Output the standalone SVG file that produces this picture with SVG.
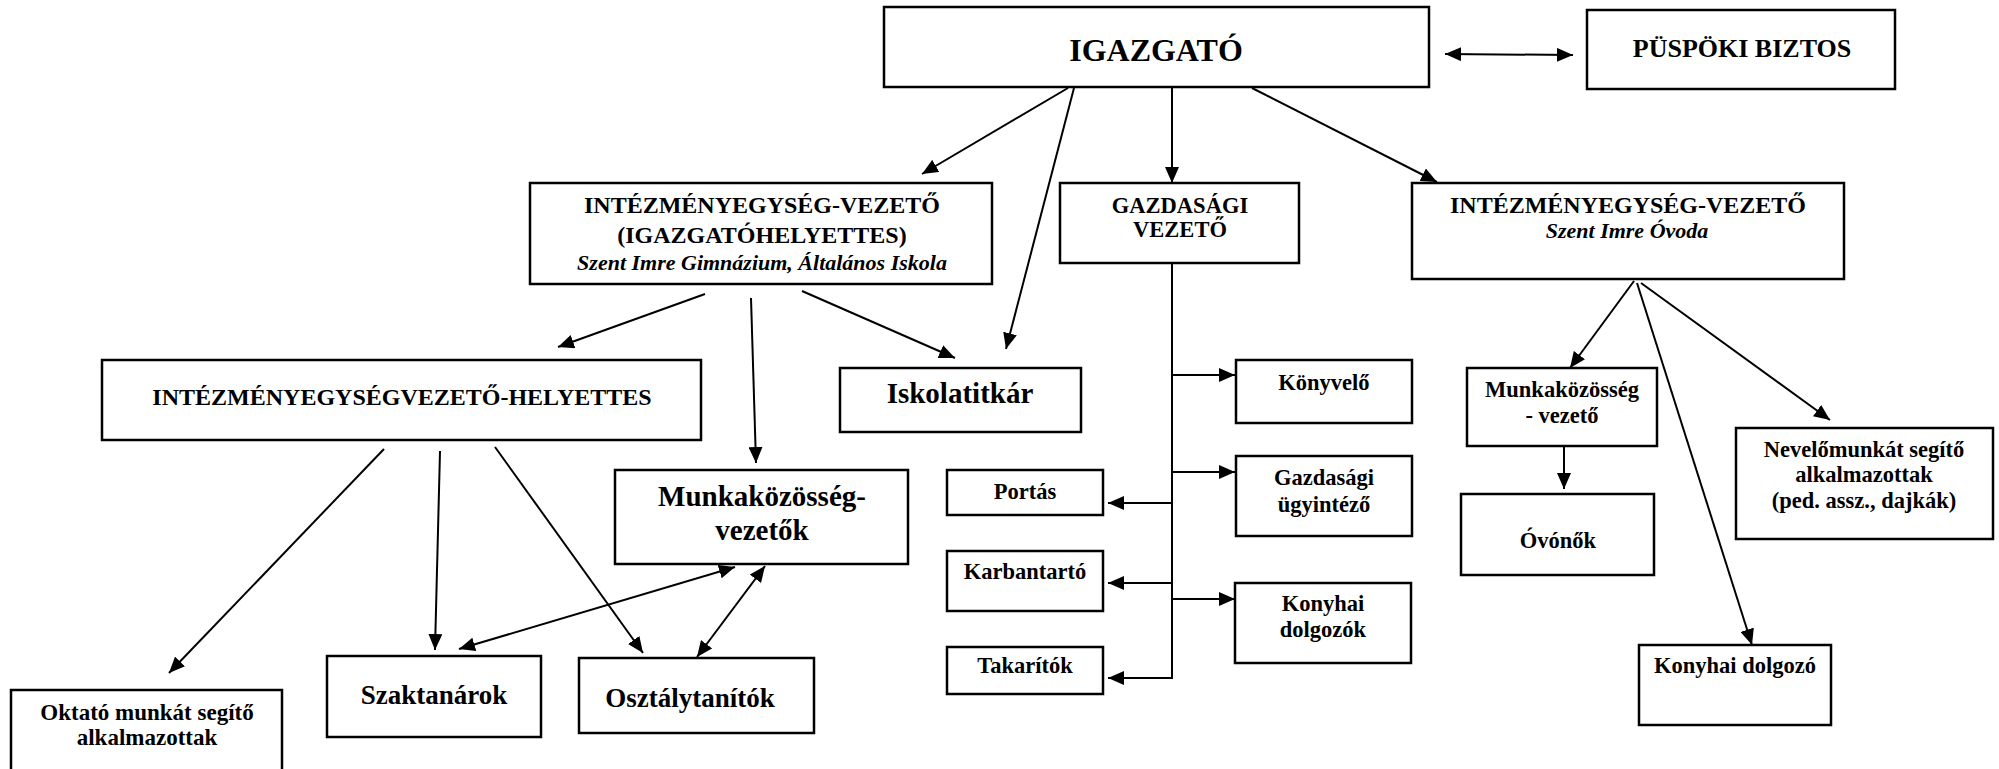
<svg xmlns="http://www.w3.org/2000/svg" width="1999" height="769" viewBox="0 0 1999 769">
<style>
.box{fill:#fff;stroke:#000;stroke-width:2.5}
.t{font-family:"Liberation Serif","Times New Roman",serif;font-weight:bold;text-anchor:middle;fill:#000}
.i{font-style:italic}
.c{fill:none;stroke:#000;stroke-width:2}
.a{marker-end:url(#ah)}
.d{marker-start:url(#ah);marker-end:url(#ah)}
</style>
<defs>
<marker id="ah" markerUnits="userSpaceOnUse" markerWidth="16" markerHeight="14" viewBox="0 0 16 14" refX="16" refY="7" orient="auto-start-reverse">
<path d="M0,0 L16,7 L0,14 z" fill="#000"/>
</marker>
</defs>
<rect width="1999" height="769" fill="#fff"/>
<g id="connectors">
<line class="c d" x1="1445" y1="54" x2="1573" y2="55"/>
<line class="c a" x1="1068" y1="88" x2="922" y2="174"/>
<line class="c a" x1="1074" y1="88" x2="1006" y2="349"/>
<line class="c a" x1="1172" y1="88" x2="1172" y2="183"/>
<line class="c a" x1="1252" y1="88" x2="1437" y2="182"/>
<line class="c a" x1="705" y1="294" x2="558" y2="347"/>
<line class="c a" x1="751" y1="298" x2="756" y2="463"/>
<line class="c a" x1="802" y1="291" x2="955" y2="358"/>
<line class="c a" x1="384" y1="449" x2="169" y2="673"/>
<line class="c a" x1="440" y1="451" x2="435" y2="650"/>
<line class="c a" x1="495" y1="447" x2="643" y2="653"/>
<line class="c d" x1="459" y1="649" x2="735" y2="567"/>
<line class="c d" x1="697" y1="657" x2="765" y2="566"/>
<line class="c" x1="1172" y1="263" x2="1172" y2="679"/>
<line class="c a" x1="1172" y1="375" x2="1235" y2="375"/>
<line class="c a" x1="1172" y1="472" x2="1235" y2="472"/>
<line class="c a" x1="1172" y1="599" x2="1235" y2="599"/>
<line class="c a" x1="1172" y1="503" x2="1108" y2="503"/>
<line class="c a" x1="1172" y1="583" x2="1108" y2="583"/>
<line class="c a" x1="1173" y1="678" x2="1108" y2="678"/>
<line class="c a" x1="1634" y1="281" x2="1570" y2="368"/>
<line class="c a" x1="1637" y1="283" x2="1752" y2="645"/>
<line class="c a" x1="1641" y1="283" x2="1830" y2="420"/>
<line class="c a" x1="1564" y1="446" x2="1564" y2="489"/>
</g>
<g id="igazgato"><rect class="box" x="884" y="7" width="545" height="80"/><text class="t" x="1156" y="61" font-size="32">IGAZGATÓ</text></g>
<g id="puspoki"><rect class="box" x="1587" y="10" width="308" height="79"/><text class="t" x="1742" y="57" font-size="26">PÜSPÖKI BIZTOS</text></g>
<g id="int-left"><rect class="box" x="530" y="183" width="462" height="101"/>
<text class="t" x="762" y="213" font-size="24">INTÉZMÉNYEGYSÉG-VEZETŐ</text>
<text class="t" x="762" y="243" font-size="24">(IGAZGATÓHELYETTES)</text>
<text class="t i" x="762" y="270" font-size="22">Szent Imre Gimnázium, Általános Iskola</text></g>
<g id="gazdasagi"><rect class="box" x="1060" y="183" width="239" height="80"/>
<text class="t" x="1180" y="213" font-size="22.5">GAZDASÁGI</text>
<text class="t" x="1180" y="237" font-size="22.5">VEZETŐ</text></g>
<g id="int-right"><rect class="box" x="1412" y="183" width="432" height="96"/>
<text class="t" x="1628" y="213" font-size="24">INTÉZMÉNYEGYSÉG-VEZETŐ</text>
<text class="t i" x="1627" y="238" font-size="22">Szent Imre Óvoda</text></g>
<g id="helyettes"><rect class="box" x="102" y="360" width="599" height="80"/>
<text class="t" x="402" y="405" font-size="24">INTÉZMÉNYEGYSÉGVEZETŐ-HELYETTES</text></g>
<g id="iskolatitkar"><rect class="box" x="840" y="368" width="241" height="64"/>
<text class="t" x="960" y="403" font-size="29">Iskolatitkár</text></g>
<g id="munkakozosseg"><rect class="box" x="615" y="470" width="293" height="94"/>
<text class="t" x="762" y="506" font-size="29">Munkaközösség-</text>
<text class="t" x="762" y="540" font-size="29">vezetők</text></g>
<g id="oktato"><rect class="box" x="11" y="690" width="271" height="90"/>
<text class="t" x="147" y="720" font-size="23">Oktató munkát segítő</text>
<text class="t" x="147" y="745" font-size="23">alkalmazottak</text></g>
<g id="szaktanarok"><rect class="box" x="327" y="656" width="214" height="81"/>
<text class="t" x="434" y="704" font-size="27">Szaktanárok</text></g>
<g id="osztalytanitok"><rect class="box" x="579" y="658" width="235" height="75"/>
<text class="t" x="690" y="707" font-size="27">Osztálytanítók</text></g>
<g id="konyvelo"><rect class="box" x="1236" y="360" width="176" height="63"/>
<text class="t" x="1324" y="390" font-size="22.5">Könyvelő</text></g>
<g id="ugyintezo"><rect class="box" x="1236" y="456" width="176" height="80"/>
<text class="t" x="1324" y="485" font-size="22.5">Gazdasági</text>
<text class="t" x="1324" y="512" font-size="22.5">ügyintéző</text></g>
<g id="konyhai-dolgozok"><rect class="box" x="1235" y="583" width="176" height="80"/>
<text class="t" x="1323" y="611" font-size="22.5">Konyhai</text>
<text class="t" x="1323" y="637" font-size="22.5">dolgozók</text></g>
<g id="portas"><rect class="box" x="947" y="470" width="156" height="45"/>
<text class="t" x="1025" y="499" font-size="22.5">Portás</text></g>
<g id="karbantarto"><rect class="box" x="947" y="551" width="156" height="60"/>
<text class="t" x="1025" y="579" font-size="22.5">Karbantartó</text></g>
<g id="takaritok"><rect class="box" x="947" y="647" width="156" height="47"/>
<text class="t" x="1025" y="673" font-size="22.5">Takarítók</text></g>
<g id="mk-vezeto"><rect class="box" x="1467" y="368" width="190" height="78"/>
<text class="t" x="1562" y="397" font-size="22.5">Munkaközösség</text>
<text class="t" x="1562" y="423" font-size="22.5">- vezető</text></g>
<g id="ovonok"><rect class="box" x="1461" y="494" width="193" height="81"/>
<text class="t" x="1558" y="548" font-size="22.5">Óvónők</text></g>
<g id="nevelo"><rect class="box" x="1736" y="428" width="257" height="111"/>
<text class="t" x="1864" y="457" font-size="22.5">Nevelőmunkát segítő</text>
<text class="t" x="1864" y="482" font-size="22.5">alkalmazottak</text>
<text class="t" x="1864" y="508" font-size="22.5">(ped. assz., dajkák)</text></g>
<g id="konyhai-dolgozo"><rect class="box" x="1639" y="645" width="192" height="80"/>
<text class="t" x="1735" y="673" font-size="22.5">Konyhai dolgozó</text></g>
</svg>
